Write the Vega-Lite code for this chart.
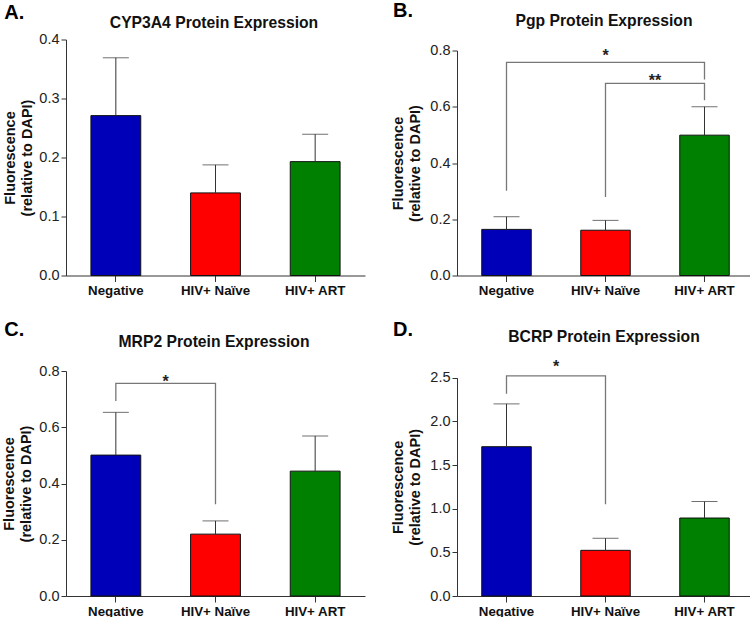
{
  "$schema": "https://vega.github.io/schema/vega-lite/v6.json",
  "background": "white",
  "padding": {"left": 1, "top": 0.5, "right": 0, "bottom": 0},
  "config": {
    "view": {"stroke": null},
    "font": "Liberation Sans",
    "axis": {"grid": false, "domainColor": "#333333", "tickColor": "#333333", "domainWidth": 1, "tickWidth": 1, "labelFont": "Liberation Sans", "titleFont": "Liberation Sans"},
    "axisY": {"labelFontSize": 14.5, "labelColor": "#222222", "tickSize": 5, "labelPadding": 2, "titleFontSize": 14.5, "titleFontWeight": "bold", "titleColor": "#111111", "titleLineHeight": 17, "titlePadding": 4},
    "axisX": {"labelFontSize": 13.3, "labelFontWeight": "bold", "labelAngle": 0, "labelColor": "#111111", "tickSize": 6, "labelPadding": 2, "titleFontSize": 15.7, "titleFontWeight": "bold", "titleColor": "#111111", "titleBaseline": "alphabetic", "titleAlign": "center"}
  },
  "datasets": {
    "bars": [
      {"panel": "A", "group": "Negative", "mean": 0.271, "upper": 0.369},
      {"panel": "A", "group": "HIV+ Naïve", "mean": 0.140, "upper": 0.1875},
      {"panel": "A", "group": "HIV+ ART", "mean": 0.193, "upper": 0.2395},
      {"panel": "B", "group": "Negative", "mean": 0.164, "upper": 0.209},
      {"panel": "B", "group": "HIV+ Naïve", "mean": 0.161, "upper": 0.196},
      {"panel": "B", "group": "HIV+ ART", "mean": 0.499, "upper": 0.600},
      {"panel": "C", "group": "Negative", "mean": 0.501, "upper": 0.653},
      {"panel": "C", "group": "HIV+ Naïve", "mean": 0.220, "upper": 0.267},
      {"panel": "C", "group": "HIV+ ART", "mean": 0.444, "upper": 0.569},
      {"panel": "D", "group": "Negative", "mean": 1.71, "upper": 2.20},
      {"panel": "D", "group": "HIV+ Naïve", "mean": 0.523, "upper": 0.661},
      {"panel": "D", "group": "HIV+ ART", "mean": 0.893, "upper": 1.082}
    ],
    "brackets": [
      {"panel": "B", "id": "b1", "ord": 1, "g": "Negative", "v": 0.301},
      {"panel": "B", "id": "b1", "ord": 2, "g": "Negative", "v": 0.758},
      {"panel": "B", "id": "b1", "ord": 3, "g": "HIV+ ART", "v": 0.758},
      {"panel": "B", "id": "b1", "ord": 4, "g": "HIV+ ART", "v": 0.697},
      {"panel": "B", "id": "b2", "ord": 1, "g": "HIV+ Naïve", "v": 0.2795},
      {"panel": "B", "id": "b2", "ord": 2, "g": "HIV+ Naïve", "v": 0.683},
      {"panel": "B", "id": "b2", "ord": 3, "g": "HIV+ ART", "v": 0.683},
      {"panel": "B", "id": "b2", "ord": 4, "g": "HIV+ ART", "v": 0.623},
      {"panel": "C", "id": "c1", "ord": 1, "g": "Negative", "v": 0.693},
      {"panel": "C", "id": "c1", "ord": 2, "g": "Negative", "v": 0.756},
      {"panel": "C", "id": "c1", "ord": 3, "g": "HIV+ Naïve", "v": 0.756},
      {"panel": "C", "id": "c1", "ord": 4, "g": "HIV+ Naïve", "v": 0.326},
      {"panel": "D", "id": "d1", "ord": 1, "g": "Negative", "v": 2.317},
      {"panel": "D", "id": "d1", "ord": 2, "g": "Negative", "v": 2.52},
      {"panel": "D", "id": "d1", "ord": 3, "g": "HIV+ Naïve", "v": 2.52},
      {"panel": "D", "id": "d1", "ord": 4, "g": "HIV+ Naïve", "v": 1.05}
    ],
    "stars": [
      {"panel": "B", "at": "HIV+ Naïve", "pos": "center", "label": "*", "v": 0.762},
      {"panel": "B", "at": "HIV+ Naïve", "pos": "between", "label": "**", "v": 0.673},
      {"panel": "C", "at": "Negative", "pos": "between", "label": "*", "v": 0.743},
      {"panel": "D", "at": "Negative", "pos": "between", "label": "*", "v": 2.565}
    ]
  },
  "spacing": 21.5,
  "vconcat": [
    {
      "spacing": 25,
      "hconcat": [
        {
          "width": 299, "height": 236,
          "resolve": {"axis": {"x": "independent"}},
          "layer": [
            {
              "data": {"name": "bars"},
              "transform": [{"filter": "datum.panel == 'A'"}],
              "mark": {"type": "bar", "stroke": "#111111", "strokeWidth": 1},
              "encoding": {
                "x": {"field": "group", "type": "nominal", "scale": {"domain": ["Negative", "HIV+ Naïve", "HIV+ ART"], "paddingInner": 0.5, "paddingOuter": 0.25}, "axis": {"title": "CYP3A4 Protein Expression", "titleX": 147.5, "titleY": -248.5}},
                "y": {"field": "mean", "type": "quantitative", "scale": {"domain": [0, 0.4], "nice": false}, "axis": {"values": [0, 0.1, 0.2, 0.3, 0.4], "format": ".1f", "title": ["Fluorescence", "(relative to DAPI)"], "titlePadding": 4}},
                "color": {"field": "group", "type": "nominal", "scale": {"domain": ["Negative", "HIV+ Naïve", "HIV+ ART"], "range": ["#0000B8", "#FF0000", "#008000"]}, "legend": null}
              }
            },
            {
              "data": {"name": "bars"},
              "transform": [{"filter": "datum.panel == 'A'"}],
              "mark": {"type": "rule", "color": "#333333", "strokeWidth": 1},
              "encoding": {"x": {"field": "group", "type": "nominal", "axis": {"orient": "top", "domain": false, "ticks": false, "labels": false, "title": "A.", "titleFontSize": 20, "titleColor": "#000000", "titleAlign": "left", "titleX": -62.3, "titleY": -21.5}}, "y": {"field": "mean", "type": "quantitative"}, "y2": {"field": "upper"}}
            },
            {
              "data": {"name": "bars"},
              "transform": [{"filter": "datum.panel == 'A'"}],
              "mark": {"type": "tick", "color": "#333333", "thickness": 1, "size": 26},
              "encoding": {"x": {"field": "group", "type": "nominal", "axis": null}, "y": {"field": "upper", "type": "quantitative"}}
            }
          ]
        },
        {
          "width": 297, "height": 236,
          "resolve": {"axis": {"x": "independent"}},
          "layer": [
            {
              "data": {"name": "bars"},
              "transform": [{"filter": "datum.panel == 'B'"}],
              "mark": {"type": "bar", "stroke": "#111111", "strokeWidth": 1},
              "encoding": {
                "x": {"field": "group", "type": "nominal", "scale": {"domain": ["Negative", "HIV+ Naïve", "HIV+ ART"], "paddingInner": 0.5, "paddingOuter": 0.25}, "axis": {"title": "Pgp Protein Expression", "titleX": 146.5, "titleY": -250}},
                "y": {"field": "mean", "type": "quantitative", "scale": {"domain": [0, 0.8], "nice": false, "range": [236, 11]}, "axis": {"values": [0, 0.2, 0.4, 0.6, 0.8], "format": ".1f", "title": ["Fluorescence", "(relative to DAPI)"], "titlePadding": 7}},
                "color": {"field": "group", "type": "nominal", "scale": {"domain": ["Negative", "HIV+ Naïve", "HIV+ ART"], "range": ["#0000B8", "#FF0000", "#008000"]}, "legend": null}
              }
            },
            {
              "data": {"name": "bars"},
              "transform": [{"filter": "datum.panel == 'B'"}],
              "mark": {"type": "rule", "color": "#333333", "strokeWidth": 1},
              "encoding": {"x": {"field": "group", "type": "nominal", "axis": {"orient": "top", "domain": false, "ticks": false, "labels": false, "title": "B.", "titleFontSize": 20, "titleColor": "#000000", "titleAlign": "left", "titleX": -64.5, "titleY": -22.8}}, "y": {"field": "mean", "type": "quantitative"}, "y2": {"field": "upper"}}
            },
            {
              "data": {"name": "bars"},
              "transform": [{"filter": "datum.panel == 'B'"}],
              "mark": {"type": "tick", "color": "#333333", "thickness": 1, "size": 26},
              "encoding": {"x": {"field": "group", "type": "nominal", "axis": null}, "y": {"field": "upper", "type": "quantitative"}}
            },
            {
              "data": {"name": "brackets"},
              "transform": [{"filter": "datum.panel == 'B'"}],
              "mark": {"type": "line", "color": "#777777", "strokeWidth": 1.3},
              "encoding": {"x": {"field": "g", "type": "nominal", "axis": null}, "y": {"field": "v", "type": "quantitative"}, "detail": {"field": "id"}, "order": {"field": "ord", "type": "quantitative"}}
            },
            {
              "data": {"name": "stars"},
              "transform": [{"filter": "datum.panel == 'B' && datum.pos == 'center'"}],
              "mark": {"type": "text", "fontSize": 16, "fontWeight": "bold", "baseline": "alphabetic", "align": "center", "color": "#222222"},
              "encoding": {"x": {"field": "at", "type": "nominal", "axis": null}, "y": {"field": "v", "type": "quantitative"}, "text": {"field": "label"}}
            },
            {
              "data": {"name": "stars"},
              "transform": [{"filter": "datum.panel == 'B' && datum.pos == 'between'"}],
              "mark": {"type": "text", "fontSize": 16, "fontWeight": "bold", "baseline": "alphabetic", "align": "center", "color": "#222222"},
              "encoding": {"x": {"field": "at", "type": "nominal", "bandPosition": 1.5, "axis": null}, "y": {"field": "v", "type": "quantitative"}, "text": {"field": "label"}}
            }
          ]
        }
      ]
    },
    {
      "spacing": 25,
      "hconcat": [
        {
          "width": 299, "height": 225,
          "resolve": {"axis": {"x": "independent"}},
          "layer": [
            {
              "data": {"name": "bars"},
              "transform": [{"filter": "datum.panel == 'C'"}],
              "mark": {"type": "bar", "stroke": "#111111", "strokeWidth": 1},
              "encoding": {
                "x": {"field": "group", "type": "nominal", "scale": {"domain": ["Negative", "HIV+ Naïve", "HIV+ ART"], "paddingInner": 0.5, "paddingOuter": 0.25}, "axis": {"title": "MRP2 Protein Expression", "titleX": 147.5, "titleY": -250}},
                "y": {"field": "mean", "type": "quantitative", "scale": {"domain": [0, 0.8], "nice": false}, "axis": {"values": [0, 0.2, 0.4, 0.6, 0.8], "format": ".1f", "title": ["Fluorescence", "(relative to DAPI)"], "titlePadding": 5}},
                "color": {"field": "group", "type": "nominal", "scale": {"domain": ["Negative", "HIV+ Naïve", "HIV+ ART"], "range": ["#0000B8", "#FF0000", "#008000"]}, "legend": null}
              }
            },
            {
              "data": {"name": "bars"},
              "transform": [{"filter": "datum.panel == 'C'"}],
              "mark": {"type": "rule", "color": "#333333", "strokeWidth": 1},
              "encoding": {"x": {"field": "group", "type": "nominal", "axis": {"orient": "top", "domain": false, "ticks": false, "labels": false, "title": "C.", "titleFontSize": 20, "titleColor": "#000000", "titleAlign": "left", "titleX": -62.3, "titleY": -35.5}}, "y": {"field": "mean", "type": "quantitative"}, "y2": {"field": "upper"}}
            },
            {
              "data": {"name": "bars"},
              "transform": [{"filter": "datum.panel == 'C'"}],
              "mark": {"type": "tick", "color": "#333333", "thickness": 1, "size": 26},
              "encoding": {"x": {"field": "group", "type": "nominal", "axis": null}, "y": {"field": "upper", "type": "quantitative"}}
            },
            {
              "data": {"name": "brackets"},
              "transform": [{"filter": "datum.panel == 'C'"}],
              "mark": {"type": "line", "color": "#777777", "strokeWidth": 1.3},
              "encoding": {"x": {"field": "g", "type": "nominal", "axis": null}, "y": {"field": "v", "type": "quantitative"}, "detail": {"field": "id"}, "order": {"field": "ord", "type": "quantitative"}}
            },
            {
              "data": {"name": "stars"},
              "transform": [{"filter": "datum.panel == 'C'"}],
              "mark": {"type": "text", "fontSize": 16, "fontWeight": "bold", "baseline": "alphabetic", "align": "center", "color": "#222222"},
              "encoding": {"x": {"field": "at", "type": "nominal", "bandPosition": 1.5, "axis": null}, "y": {"field": "v", "type": "quantitative"}, "text": {"field": "label"}}
            }
          ]
        },
        {
          "width": 297, "height": 225,
          "resolve": {"axis": {"x": "independent"}},
          "layer": [
            {
              "data": {"name": "bars"},
              "transform": [{"filter": "datum.panel == 'D'"}],
              "mark": {"type": "bar", "stroke": "#111111", "strokeWidth": 1},
              "encoding": {
                "x": {"field": "group", "type": "nominal", "scale": {"domain": ["Negative", "HIV+ Naïve", "HIV+ ART"], "paddingInner": 0.5, "paddingOuter": 0.25}, "axis": {"title": "BCRP Protein Expression", "titleX": 146.5, "titleY": -254.5}},
                "y": {"field": "mean", "type": "quantitative", "scale": {"domain": [0, 2.5], "nice": false, "range": [225, 6.7]}, "axis": {"values": [0, 0.5, 1, 1.5, 2, 2.5], "format": ".1f", "title": ["Fluorescence", "(relative to DAPI)"], "titlePadding": 7}},
                "color": {"field": "group", "type": "nominal", "scale": {"domain": ["Negative", "HIV+ Naïve", "HIV+ ART"], "range": ["#0000B8", "#FF0000", "#008000"]}, "legend": null}
              }
            },
            {
              "data": {"name": "bars"},
              "transform": [{"filter": "datum.panel == 'D'"}],
              "mark": {"type": "rule", "color": "#333333", "strokeWidth": 1},
              "encoding": {"x": {"field": "group", "type": "nominal", "axis": {"orient": "top", "domain": false, "ticks": false, "labels": false, "title": "D.", "titleFontSize": 20, "titleColor": "#000000", "titleAlign": "left", "titleX": -64.5, "titleY": -35.5}}, "y": {"field": "mean", "type": "quantitative"}, "y2": {"field": "upper"}}
            },
            {
              "data": {"name": "bars"},
              "transform": [{"filter": "datum.panel == 'D'"}],
              "mark": {"type": "tick", "color": "#333333", "thickness": 1, "size": 26},
              "encoding": {"x": {"field": "group", "type": "nominal", "axis": null}, "y": {"field": "upper", "type": "quantitative"}}
            },
            {
              "data": {"name": "brackets"},
              "transform": [{"filter": "datum.panel == 'D'"}],
              "mark": {"type": "line", "color": "#777777", "strokeWidth": 1.3},
              "encoding": {"x": {"field": "g", "type": "nominal", "axis": null}, "y": {"field": "v", "type": "quantitative"}, "detail": {"field": "id"}, "order": {"field": "ord", "type": "quantitative"}}
            },
            {
              "data": {"name": "stars"},
              "transform": [{"filter": "datum.panel == 'D'"}],
              "mark": {"type": "text", "fontSize": 16, "fontWeight": "bold", "baseline": "alphabetic", "align": "center", "color": "#222222"},
              "encoding": {"x": {"field": "at", "type": "nominal", "bandPosition": 1.5, "axis": null}, "y": {"field": "v", "type": "quantitative"}, "text": {"field": "label"}}
            }
          ]
        }
      ]
    }
  ]
}
